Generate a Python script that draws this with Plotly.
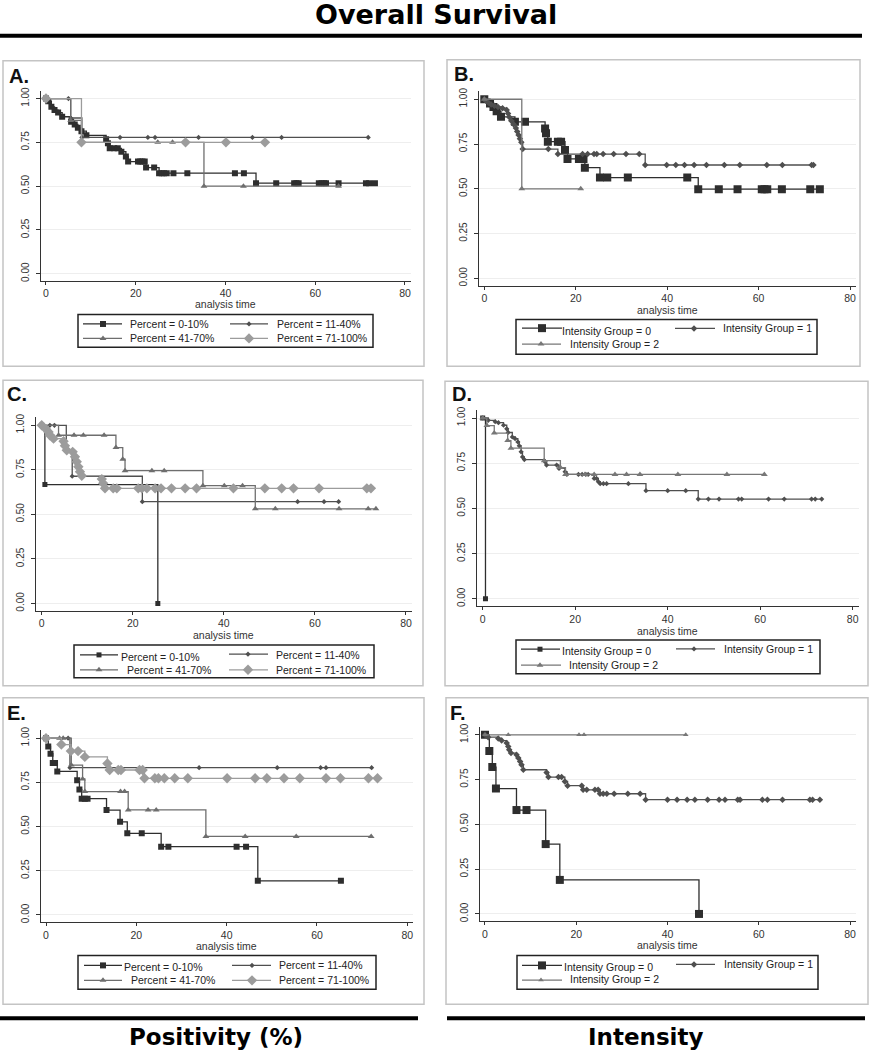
import plotly.graph_objects as go

W, H = 871, 1050

# ---------------- data (time, survival) ----------------
PCT_LABELS = ["Percent = 0-10%", "Percent = 11-40%", "Percent = 41-70%", "Percent = 71-100%"]
INT_LABELS = ["Intensity Group = 0", "Intensity Group = 1", "Intensity Group = 2"]
X_TICKS = [0, 20, 40, 60, 80]
Y_TICKS = [0, 0.25, 0.5, 0.75, 1.0]
Y_TICKTEXT = ["0.00", "0.25", "0.50", "0.75", "1.00"]

# Panel A (positivity)
A_t0 = [0, 0.5, 1.2, 1.9, 2.7, 3.6, 5.6, 6.4, 7.1, 7.9, 9.0, 13.4, 13.8, 14.2, 15.2, 16.0, 16.8, 17.8, 18.3, 20.5,
        21.0, 21.5, 22.0, 22.3, 24.1, 25.2, 25.8, 26.3, 26.9, 28.4, 31.5, 42.1, 44.1, 46.8, 51.3, 55.3, 55.8, 56.3,
        60.8, 61.4, 62.0, 62.4, 65.2, 71.3, 72.0, 73.3]
A_s0 = [1, 0.985, 0.953, 0.934, 0.92, 0.896, 0.867, 0.852, 0.833, 0.814, 0.79, 0.767, 0.745, 0.716, 0.716, 0.716,
        0.697, 0.669, 0.64, 0.64, 0.64, 0.64, 0.64, 0.606, 0.606, 0.574, 0.574, 0.574, 0.574, 0.574, 0.574, 0.574,
        0.574, 0.517, 0.517, 0.517, 0.517, 0.517, 0.517, 0.517, 0.517, 0.517, 0.517, 0.517, 0.517, 0.517]
A_t1 = [0, 5.0, 5.5, 8.0, 16.5, 22.7, 24.3, 34.0, 46.0, 52.5, 71.8]
A_s1 = [1, 1, 0.889, 0.778, 0.778, 0.778, 0.778, 0.778, 0.778, 0.778, 0.778]
A_t2 = [0, 5.5, 7.9, 24.9, 28.2, 35.2, 44.0, 65.2]
A_s2 = [1, 0.875, 0.75, 0.75, 0.75, 0.5, 0.5, 0.5]
A_t3 = [0, 7.9, 31.1, 40.1, 48.8]
A_s3 = [1, 0.75, 0.75, 0.75, 0.75]

# Panel B (intensity)
B_t0 = [0, 1.25, 2.0, 2.7, 3.65, 6.7, 8.9, 13.3, 13.5, 13.9, 16.1, 16.8, 17.65, 18.2, 20.7, 21.2, 21.7, 22.0,
        25.3, 26.9, 31.4, 44.4, 46.8, 51.3, 55.4, 60.7, 61.3, 61.9, 65.1, 71.3, 73.4]
B_s0 = [1, 0.976, 0.957, 0.933, 0.902, 0.874, 0.874, 0.837, 0.81, 0.763, 0.763, 0.763, 0.717, 0.667, 0.667,
        0.667, 0.667, 0.618, 0.563, 0.563, 0.563, 0.563, 0.498, 0.498, 0.498, 0.498, 0.498, 0.498, 0.498, 0.498,
        0.498]
B_t1 = [0, 0.4, 0.9, 1.5, 2.2, 3.0, 4.0, 4.9, 5.2, 5.5, 5.9, 6.4, 6.9, 7.2, 7.5, 7.8, 8.1, 8.4, 14.0, 16.1,
        21.5, 22.6, 24.0, 24.6, 26.0, 28.3, 31.0, 33.9, 35.2, 39.9, 41.9, 43.8, 45.9, 48.6, 52.5, 55.9, 61.8, 65.2,
        71.6, 72.0]
B_s1 = [1, 0.99, 0.98, 0.97, 0.963, 0.957, 0.95, 0.94, 0.92, 0.90, 0.88, 0.86, 0.84, 0.82, 0.80, 0.78, 0.76,
        0.722, 0.722, 0.694, 0.694, 0.694, 0.694, 0.694, 0.694, 0.694, 0.694, 0.694, 0.633, 0.633, 0.633, 0.633,
        0.633, 0.633, 0.633, 0.633, 0.633, 0.633, 0.633, 0.633]
B_t2 = [0, 8.2, 21.1]
B_s2 = [1, 0.5, 0.5]

# Panel C (positivity)
C_t0 = [0, 0.7, 25.5]
C_s0 = [1, 0.667, 0]
C_t1 = [0, 1.8, 2.8, 5.4, 6.7, 22.1, 56.2, 62.0, 65.2]
C_s1 = [1, 1, 1, 0.857, 0.714, 0.571, 0.571, 0.571, 0.571]
C_t2 = [0, 3.7, 7.1, 9.15, 13.7, 16.3, 17.8, 18.3, 24.2, 26.9, 35.4, 40.1, 44.1, 46.9, 51.3, 65.3, 71.7, 73.4]
C_s2 = [1, 0.944, 0.944, 0.944, 0.944, 0.875, 0.81, 0.745, 0.745, 0.745, 0.661, 0.661, 0.661, 0.531, 0.531,
        0.531, 0.531, 0.531]
C_t3 = [0, 0.95, 1.5, 1.8, 2.6, 4.8, 5.1, 5.5, 6.8, 7.3, 7.7, 8.05, 8.4, 8.8, 13.2, 13.5, 13.9, 15.7, 16.5,
        21.2, 22.0, 23.1, 24.9, 26.2, 28.5, 31.5, 34.0, 42.1, 49.0, 52.7, 55.3, 60.9, 71.4, 72.3]
C_s3 = [1, 0.978, 0.963, 0.944, 0.925, 0.91, 0.885, 0.86, 0.851, 0.823, 0.795, 0.767, 0.739, 0.717, 0.698,
        0.674, 0.646, 0.646, 0.646, 0.646, 0.646, 0.646, 0.646, 0.646, 0.646, 0.646, 0.646, 0.646, 0.646, 0.646,
        0.646, 0.646, 0.646, 0.646]

# Panel D (intensity)
D_t0 = [0, 0.6]
D_s0 = [1, 0]
D_t1 = [0, 1.2, 2.7, 3.4, 4.5, 5.2, 5.5, 6.4, 7.0, 7.6, 7.9, 8.3, 8.6, 9.0, 13.5, 13.8, 16.0, 16.5, 17.8, 18.2,
        20.7, 21.5, 22.3, 22.8, 24.1, 24.6, 25.0, 25.4, 26.1, 26.8, 31.5, 35.3, 40.0, 43.9, 46.6, 48.8, 51.1, 55.3,
        56.0, 61.8, 65.2, 71.1, 71.9, 73.3]
D_s1 = [1, 0.987, 0.98, 0.974, 0.96, 0.94, 0.92, 0.895, 0.886, 0.868, 0.846, 0.813, 0.785, 0.77, 0.758, 0.74,
        0.74, 0.721, 0.703, 0.688, 0.688, 0.688, 0.688, 0.688, 0.666, 0.666, 0.648, 0.637, 0.637, 0.637, 0.637,
        0.598, 0.598, 0.598, 0.552, 0.552, 0.552, 0.552, 0.552, 0.552, 0.552, 0.552, 0.552, 0.552]
D_t2 = [0, 0.9, 2.5, 5.4, 6.1, 13.3, 16.8, 17.9, 22.1, 24.1, 28.6, 31.1, 34.0, 42.2, 52.8, 60.9]
D_s2 = [1, 0.958, 0.917, 0.875, 0.833, 0.764, 0.726, 0.688, 0.688, 0.688, 0.688, 0.688, 0.688, 0.688, 0.688,
        0.688]

# Panel E (positivity)
E_t0 = [0, 0.5, 1.0, 1.5, 2.0, 2.5, 6.9, 7.4, 7.9, 8.6, 9.2, 13.4, 16.4, 18.0, 21.2, 25.5, 27.1, 42.2, 44.3,
        46.9, 65.3]
E_s0 = [1, 0.953, 0.912, 0.86, 0.86, 0.812, 0.762, 0.709, 0.658, 0.658, 0.658, 0.593, 0.527, 0.462, 0.462,
        0.386, 0.386, 0.386, 0.386, 0.193, 0.193]
E_t1 = [0, 4.9, 5.3, 33.9, 51.2, 60.8, 62.0, 72.1]
E_s1 = [1, 1, 0.833, 0.833, 0.833, 0.833, 0.833, 0.833]
E_t2 = [0, 3.0, 3.8, 5.6, 8.1, 8.6, 16.5, 17.4, 18.2, 22.6, 24.4, 35.4, 44.1, 55.4, 72.0]
E_s2 = [1, 1, 1, 0.848, 0.769, 0.698, 0.698, 0.698, 0.594, 0.594, 0.594, 0.444, 0.444, 0.444, 0.444]
E_t3 = [0, 3.4, 5.5, 7.1, 8.6, 13.6, 14.1, 16.0, 16.6, 20.7, 21.4, 21.8, 24.1, 24.9, 26.2, 28.5, 31.4, 40.1,
        46.3, 48.9, 52.7, 56.2, 62.0, 65.2, 71.4, 73.4]
E_s3 = [1, 0.964, 0.927, 0.927, 0.894, 0.857, 0.82, 0.82, 0.82, 0.82, 0.82, 0.773, 0.773, 0.773, 0.773, 0.773,
        0.773, 0.773, 0.773, 0.773, 0.773, 0.773, 0.773, 0.773, 0.773, 0.773]

# Panel F (intensity)
F_t0 = [0, 0.95, 1.6, 2.4, 6.9, 9.1, 13.3, 16.4, 46.9]
F_s0 = [1, 0.91, 0.82, 0.70, 0.58, 0.58, 0.39, 0.19, 0]
F_t1 = [0, 0.7, 2.9, 3.65, 4.75, 5.1, 5.3, 5.7, 6.9, 7.3, 7.7, 8.0, 8.4, 13.5, 13.9, 16.1, 16.8, 17.5, 18.1,
        21.2, 21.5, 22.3, 24.1, 24.8, 25.2, 25.9, 26.7, 28.3, 31.3, 34.0, 35.2, 40.0, 42.1, 44.3, 46.0, 48.8, 51.3,
        52.6, 55.4, 55.9, 60.8, 61.9, 65.2, 71.2, 71.8, 73.4]
F_s1 = [1, 0.987, 0.98, 0.968, 0.954, 0.935, 0.916, 0.898, 0.888, 0.87, 0.851, 0.833, 0.805, 0.79, 0.764, 0.764,
        0.764, 0.74, 0.716, 0.716, 0.693, 0.693, 0.693, 0.693, 0.671, 0.671, 0.671, 0.671, 0.671, 0.671, 0.638,
        0.638, 0.638, 0.638, 0.638, 0.638, 0.638, 0.638, 0.638, 0.638, 0.638, 0.638, 0.638, 0.638, 0.638, 0.638]
F_t2 = [0, 5.1, 20.6, 21.7, 44.0]
F_s2 = [1, 1, 1, 1, 1]

# ---------------- styles ----------------
PCT_COLORS = ["#2e2e2e", "#4f4f4f", "#6e6e6e", "#9c9c9c"]
INT_COLORS = ["#2e2e2e", "#4f4f4f", "#777777"]
PCT_SYMBOLS = ["square", "diamond", "triangle-up", "diamond"]
INT_SYMBOLS = ["square", "diamond", "triangle-up"]
FONT = "Liberation Sans, Arial, sans-serif"

XR = [-1.2, 81.3]
YR = [-0.04, 1.045]

panels = [
    dict(letter="A.", lpos=(7, 72), geom=(46, 405, 95, 271), atime_y=301.5,
         series=[(A_t0, A_s0), (A_t1, A_s1), (A_t2, A_s2), (A_t3, A_s3)], kind="pct",
         sizes=[6, 4, 6, 8], frame=(3, 57, 424, 364), box=(78, 312, 373, 345),
         entries=[(83, 122, 103, 321.5, 128, 321.5), (230, 268, 249, 321.5, 275, 321.5),
                  (83, 122, 103, 336, 128, 336), (230, 268, 249, 336, 275, 336)]),
    dict(letter="B.", lpos=(452, 70), geom=(484.3, 850, 95.7, 275.7), atime_y=307,
         series=[(B_t0, B_s0), (B_t1, B_s1), (B_t2, B_s2)], kind="int",
         sizes=[8, 5, 6], frame=(447, 56, 860, 364), box=(516, 317, 817, 352),
         entries=[(522, 562, 542, 325.7, 560, 329), (675, 715, 694, 326, 721, 326),
                  (522, 561, 541, 341.7, 568, 342)]),
    dict(letter="C.", lpos=(5, 392), geom=(41.7, 406, 423.3, 602.3), atime_y=634.5,
         series=[(C_t0, C_s0), (C_t1, C_s1), (C_t2, C_s2), (C_t3, C_s3)], kind="pct",
         sizes=[5, 4, 6, 8], frame=(3, 378, 423, 685), box=(74, 644, 374, 677),
         entries=[(80, 118, 99, 654, 119, 656.5), (229, 268, 248, 653.3, 274, 654),
                  (80, 118, 99, 669, 125, 669), (229, 268, 248, 669, 274, 669)]),
    dict(letter="D.", lpos=(450, 392), geom=(482.7, 852.7, 416, 597.7), atime_y=630,
         series=[(D_t0, D_s0), (D_t1, D_s1), (D_t2, D_s2)], kind="int",
         sizes=[5, 4, 6], frame=(445, 379, 868, 685), box=(516, 639, 820, 673),
         entries=[(521, 560, 540, 648.3, 560, 650), (676, 715, 694, 648, 722, 648),
                  (521, 561, 540, 664.3, 567, 664)]),
    dict(letter="E.", lpos=(5, 712), geom=(46, 407.3, 737.7, 915.3), atime_y=946.5,
         series=[(E_t0, E_s0), (E_t1, E_s1), (E_t2, E_s2), (E_t3, E_s3)], kind="pct",
         sizes=[6, 4, 6, 8], frame=(3, 697, 424, 1005), box=(78, 956, 376, 990),
         entries=[(84, 122, 103, 966, 122, 968), (232, 271, 252, 966, 277, 966),
                  (84, 122, 103, 981, 129, 981), (232, 271, 252, 981, 277, 981)]),
    dict(letter="F.", lpos=(448, 712), geom=(485, 850, 734.3, 914.3), atime_y=946,
         series=[(F_t0, F_s0), (F_t1, F_s1), (F_t2, F_s2)], kind="int",
         sizes=[8, 5, 5], frame=(446, 697, 868, 1005), box=(517, 956, 818, 990),
         entries=[(522, 562, 542, 966, 562, 968), (676, 715, 694, 965, 722, 965),
                  (522, 562, 541, 980.7, 568, 980)]),
]


def px(p):
    return p / W


def py(p):
    return 1 - p / H


fig = go.Figure()
shapes = []
annotations = []
layout_axes = {}

for k, p in enumerate(panels, start=1):
    px0, px80, py1, py0 = p["geom"]
    sx = (px80 - px0) / 80.0
    sy = py0 - py1
    left = px0 + XR[0] * sx
    right = px0 + XR[1] * sx
    top = py0 - YR[1] * sy
    bottom = py0 - YR[0] * sy
    xname = "xaxis" if k == 1 else f"xaxis{k}"
    yname = "yaxis" if k == 1 else f"yaxis{k}"
    xref = "x" if k == 1 else f"x{k}"
    yref = "y" if k == 1 else f"y{k}"
    layout_axes[xname] = dict(
        domain=[px(left), px(right)], range=XR, anchor=yref,
        tickmode="array", tickvals=X_TICKS, ticks="outside", ticklen=3, tickwidth=1,
        tickcolor="#333333", showline=True, linecolor="#333333", linewidth=1,
        showgrid=False, zeroline=False, tickfont=dict(family=FONT, size=10.5, color="#333333"),
        fixedrange=True)
    layout_axes[yname] = dict(
        domain=[py(bottom), py(top)], range=YR, anchor=xref,
        tickmode="array", tickvals=Y_TICKS, ticktext=Y_TICKTEXT, tickangle=-90,
        ticks="outside", ticklen=4, tickwidth=1, tickcolor="#333333",
        showline=True, linecolor="#333333", linewidth=1,
        showgrid=True, gridcolor="#eeeeee", gridwidth=1, zeroline=False,
        ticklabelstandoff=3,
        tickfont=dict(family=FONT, size=10, color="#333333"), fixedrange=True)

    labels = PCT_LABELS if p["kind"] == "pct" else INT_LABELS
    colors = PCT_COLORS if p["kind"] == "pct" else INT_COLORS
    symbols = PCT_SYMBOLS if p["kind"] == "pct" else INT_SYMBOLS

    for g, (t, s) in enumerate(p["series"]):
        fig.add_trace(go.Scatter(
            x=t, y=s, mode="lines+markers", line=dict(shape="hv", color=colors[g], width=1.3),
            marker=dict(symbol=symbols[g], size=p["sizes"][g], color=colors[g], line=dict(width=0)),
            name=labels[g], xaxis=xref, yaxis=yref, showlegend=False, hoverinfo="skip"))

    # panel frame
    fx0, fy0, fx1, fy1 = p["frame"]
    shapes.append(dict(type="rect", xref="paper", yref="paper", x0=px(fx0), x1=px(fx1), y0=py(fy1), y1=py(fy0),
                       line=dict(color="#c4c4c4", width=1.5), fillcolor="rgba(0,0,0,0)", layer="below"))
    # legend box
    bx0, by0, bx1, by1 = p["box"]
    shapes.append(dict(type="rect", xref="paper", yref="paper", x0=px(bx0), x1=px(bx1), y0=py(by1), y1=py(by0),
                       line=dict(color="#222222", width=1.5), fillcolor="rgba(0,0,0,0)"))
    # legend keys
    for g, (lx0, lx1, mx, ly, tx, ty) in enumerate(p["entries"]):
        fig.add_trace(go.Scatter(x=[lx0, lx1], y=[ly, ly], mode="lines",
                                 line=dict(color=colors[g], width=1.3),
                                 xaxis="x7", yaxis="y7", showlegend=False, hoverinfo="skip"))
        fig.add_trace(go.Scatter(x=[mx], y=[ly], mode="markers",
                                 marker=dict(symbol=symbols[g], size=p["sizes"][g], color=colors[g],
                                             line=dict(width=0)),
                                 xaxis="x7", yaxis="y7", showlegend=False, hoverinfo="skip"))
        annotations.append(dict(text=labels[g], x=px(tx), y=py(ty), xref="paper", yref="paper",
                                xanchor="left", yanchor="middle", showarrow=False,
                                font=dict(family=FONT, size=10.5, color="#222222")))
    # panel letter
    lx, ly = p["lpos"]
    annotations.append(dict(text="<b>" + p["letter"] + "</b>", x=px(lx), y=py(ly), xref="paper", yref="paper",
                            xanchor="left", yanchor="middle", showarrow=False,
                            font=dict(family=FONT, size=20, color="#111111")))
    # x axis title
    annotations.append(dict(text="analysis time", x=px(px0 + 40 * sx), y=py(p["atime_y"]), xref="paper",
                            yref="paper", xanchor="center", yanchor="middle", showarrow=False,
                            font=dict(family=FONT, size=10.5, color="#333333")))

# overlay pixel axes for legend keys
layout_axes["xaxis7"] = dict(domain=[0, 1], range=[0, W], anchor="y7", visible=False, fixedrange=True)
layout_axes["yaxis7"] = dict(domain=[0, 1], range=[H, 0], anchor="x7", visible=False, fixedrange=True)

# headers / section rules
TITLE_FONT = "DejaVu Sans, Arial, sans-serif"
annotations.append(dict(text="<b>Overall Survival</b>", x=px(436), y=py(11), xref="paper", yref="paper",
                        xanchor="center", yanchor="middle", showarrow=False,
                        font=dict(family=TITLE_FONT, size=27, color="#000000")))
annotations.append(dict(text="<b>Positivity (%)</b>", x=px(216), y=py(1038), xref="paper", yref="paper",
                        xanchor="center", yanchor="middle", showarrow=False,
                        font=dict(family=TITLE_FONT, size=23, color="#000000")))
annotations.append(dict(text="<b>Intensity</b>", x=px(645), y=py(1038), xref="paper", yref="paper",
                        xanchor="center", yanchor="middle", showarrow=False,
                        font=dict(family=TITLE_FONT, size=23, color="#000000")))
shapes.append(dict(type="line", xref="paper", yref="paper", x0=px(0), x1=px(862), y0=py(32), y1=py(32),
                   line=dict(color="#000000", width=4)))
shapes.append(dict(type="line", xref="paper", yref="paper", x0=px(0), x1=px(418), y0=py(1019), y1=py(1019),
                   line=dict(color="#000000", width=4)))
shapes.append(dict(type="line", xref="paper", yref="paper", x0=px(447), x1=px(865), y0=py(1019), y1=py(1019),
                   line=dict(color="#000000", width=4)))

fig.update_layout(
    width=W, height=H, margin=dict(l=0, r=0, t=0, b=0),
    paper_bgcolor="white", plot_bgcolor="rgba(0,0,0,0)",
    showlegend=False, shapes=shapes, annotations=annotations,
    **layout_axes)

fig.write_html("out.html", config={"displayModeBar": False},
               post_script="document.body.style.margin='0';document.body.style.padding='0';"
                           "document.documentElement.style.overflow='hidden';")
